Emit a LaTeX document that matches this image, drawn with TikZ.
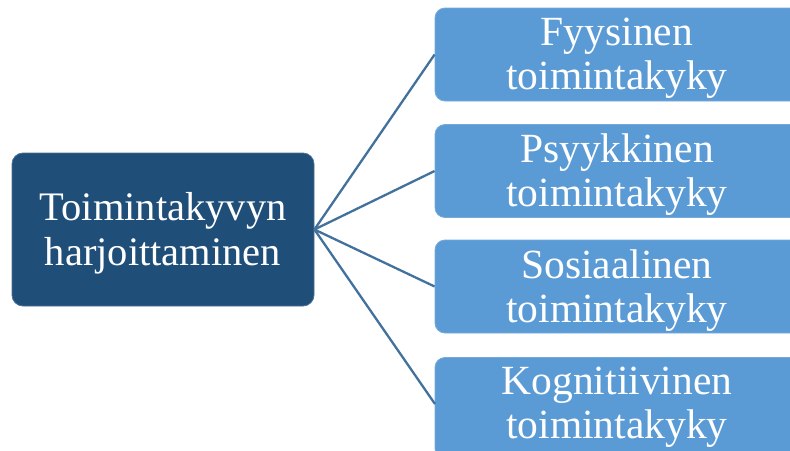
\documentclass[tikz,border=0pt]{standalone}
\usepackage{fontspec}
\setmainfont{Liberation Serif}
\definecolor{darkbox}{HTML}{1F4E79}
\definecolor{lightbox}{HTML}{5B9BD5}
\definecolor{linkcol}{HTML}{41719C}
\tikzset{
  mainbox/.style={draw=darkbox!80!white, line width=0.8pt, fill=darkbox, rounded corners=11pt, minimum width=302pt, minimum height=153pt, inner sep=0pt},
  subbox/.style={draw=lightbox!85!white, line width=0.8pt, fill=lightbox, rounded corners=10pt, minimum width=366pt, minimum height=93pt, inner sep=0pt},
  boxtext/.style={text=white, align=center, inner sep=0pt, font=\fontsize{41.5}{44}\selectfont},
  link/.style={draw=linkcol, line width=2.3pt}
}
\begin{document}
\begin{tikzpicture}[x=1pt,y=-1pt]
\useasboundingbox (0,0) rectangle (790,450);
\node[mainbox] (m) at (163,229.5) {};
\node[subbox] (a) at (618,54.5) {};
\node[subbox] (b) at (618,171) {};
\node[subbox] (c) at (618,286.5) {};
\node[subbox, minimum height=101pt] (d) at (618,408) {};
\coordinate (dw) at (435,404);
\draw[link] (m.east) -- (a.west);
\draw[link] (m.east) -- (b.west);
\draw[link] (m.east) -- (c.west);
\draw[link] (m.east) -- (dw);
\node[boxtext, font=\fontsize{40.5}{45}\selectfont] (mt) at (163,233.5) {Toimintakyvyn\\harjoittaminen};
\node[boxtext] (at) at (617,58.5) {Fyysinen\\toimintakyky};
\node[boxtext] (bt) at (617,175) {Psyykkinen\\toimintakyky};
\node[boxtext] (ct) at (617,290.5) {Sosiaalinen\\toimintakyky};
\node[boxtext] (dt) at (617,407) {Kognitiivinen\\toimintakyky};
\end{tikzpicture}
\end{document}
